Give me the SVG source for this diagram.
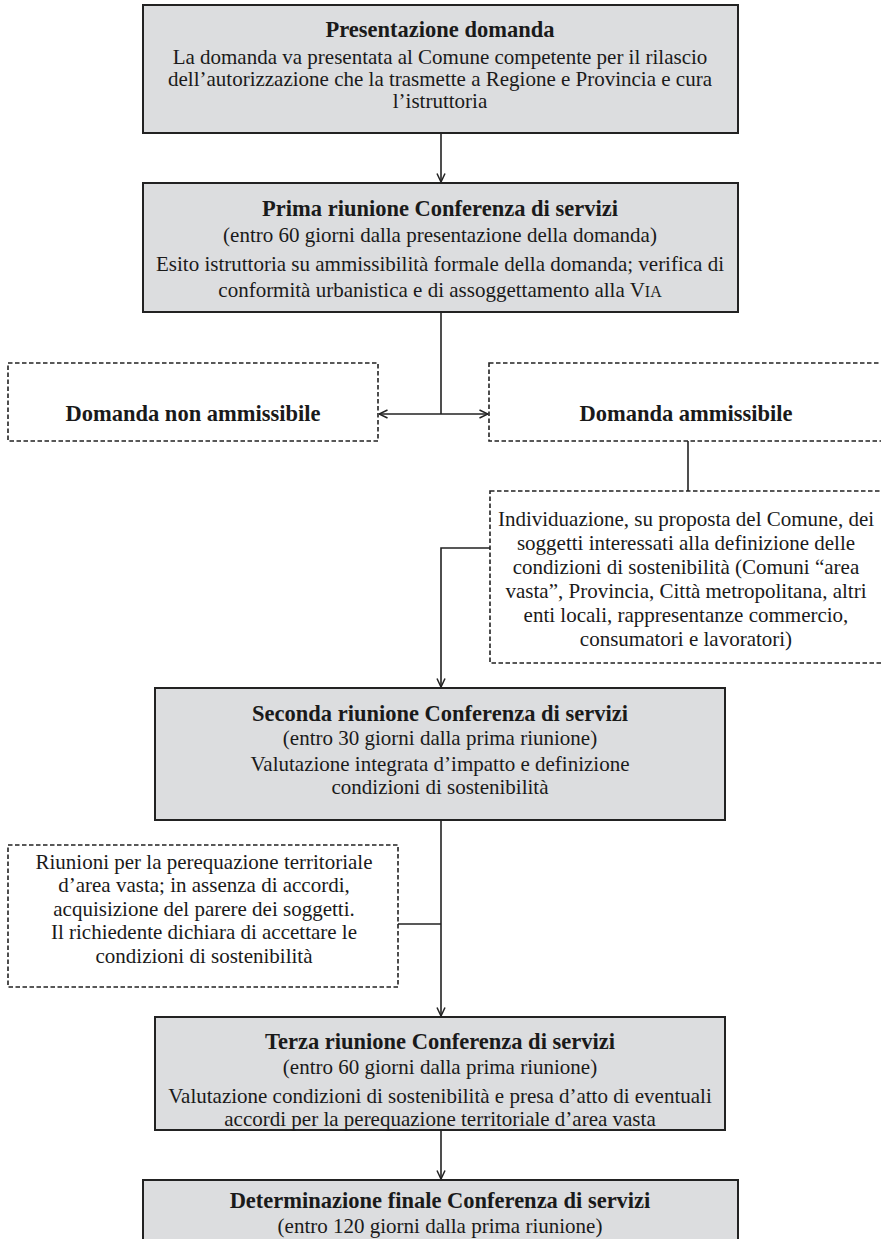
<svg xmlns="http://www.w3.org/2000/svg" width="881" height="1239" viewBox="0 0 881 1239">
<style>
.box{fill:#dcdddf;stroke:#222;stroke-width:2}
.dash{fill:#fff;stroke:#222;stroke-width:1.6;stroke-dasharray:4.5 2.5}
.t{font-family:"Liberation Serif","Times New Roman",serif;font-size:21px;fill:#1a1a1a;text-anchor:middle}
.b{font-weight:bold;font-size:22.5px}
.ln{fill:none;stroke:#222;stroke-width:1.6}
</style>
<defs>
<marker id="arr" viewBox="0 0 10 10" refX="9.5" refY="5" markerWidth="10" markerHeight="10" markerUnits="userSpaceOnUse" orient="auto-start-reverse">
<path d="M1,1 L9.5,5 L1,9" fill="none" stroke="#222" stroke-width="1.5"/>
</marker>
</defs>
<g id="connectors">
<line class="ln" x1="441" y1="133" x2="441" y2="182" marker-end="url(#arr)"/>
<line class="ln" x1="441" y1="312" x2="441" y2="414"/>
<line class="ln" x1="379" y1="414" x2="488" y2="414" marker-start="url(#arr)" marker-end="url(#arr)"/>
<line class="ln" x1="688" y1="441" x2="688" y2="491"/>
<polyline class="ln" points="490,548 441,548 441,687" marker-end="url(#arr)"/>
<line class="ln" x1="441" y1="820" x2="441" y2="1016" marker-end="url(#arr)"/>
<line class="ln" x1="398" y1="924" x2="441" y2="924"/>
<line class="ln" x1="441" y1="1130" x2="441" y2="1179" marker-end="url(#arr)"/>
</g>
<g id="n1">
<rect class="box" x="143" y="5" width="595" height="128"/>
<text class="t b" x="440" y="37">Presentazione domanda</text>
<text class="t" x="440" y="64">La domanda va presentata al Comune competente per il rilascio</text>
<text class="t" x="440" y="86">dell’autorizzazione che la trasmette a Regione e Provincia e cura</text>
<text class="t" x="440" y="108">l’istruttoria</text>
</g>
<g id="n2">
<rect class="box" x="143" y="183" width="595" height="129"/>
<text class="t b" x="440" y="216">Prima riunione Conferenza di servizi</text>
<text class="t" x="440" y="242">(entro 60 giorni dalla presentazione della domanda)</text>
<text class="t" x="440" y="271">Esito istruttoria su ammissibilità formale della domanda; verifica di</text>
<text class="t" x="440" y="297">conformità urbanistica e di assoggettamento alla V<tspan font-size="16">IA</tspan></text>
</g>
<g id="n3">
<rect class="dash" x="8" y="363" width="370" height="78"/>
<text class="t b" x="193" y="421">Domanda non ammissibile</text>
</g>
<g id="n4">
<rect class="dash" x="489" y="363" width="400" height="78"/>
<text class="t b" x="686" y="421">Domanda ammissibile</text>
</g>
<g id="n5">
<rect class="dash" x="490" y="491" width="400" height="172"/>
<text class="t" x="686" y="526">Individuazione, su proposta del Comune, dei</text>
<text class="t" x="686" y="550">soggetti interessati alla definizione delle</text>
<text class="t" x="686" y="574">condizioni di sostenibilità (Comuni “area</text>
<text class="t" x="686" y="598">vasta”, Provincia, Città metropolitana, altri</text>
<text class="t" x="686" y="622">enti locali, rappresentanze commercio,</text>
<text class="t" x="686" y="646">consumatori e lavoratori)</text>
</g>
<g id="n6">
<rect class="box" x="155" y="688" width="570" height="132"/>
<text class="t b" x="440" y="721">Seconda riunione Conferenza di servizi</text>
<text class="t" x="440" y="745">(entro 30 giorni dalla prima riunione)</text>
<text class="t" x="440" y="771">Valutazione integrata d’impatto e definizione</text>
<text class="t" x="440" y="794">condizioni di sostenibilità</text>
</g>
<g id="n7">
<rect class="dash" x="8" y="845" width="390" height="142"/>
<text class="t" x="204" y="869">Riunioni per la perequazione territoriale</text>
<text class="t" x="204" y="892">d’area vasta; in assenza di accordi,</text>
<text class="t" x="204" y="916">acquisizione del parere dei soggetti.</text>
<text class="t" x="204" y="939">Il richiedente dichiara di accettare le</text>
<text class="t" x="204" y="963">condizioni di sostenibilità</text>
</g>
<g id="n8">
<rect class="box" x="155" y="1017" width="570" height="113"/>
<text class="t b" x="440" y="1049">Terza riunione Conferenza di servizi</text>
<text class="t" x="440" y="1074">(entro 60 giorni dalla prima riunione)</text>
<text class="t" x="440" y="1103">Valutazione condizioni di sostenibilità e presa d’atto di eventuali</text>
<text class="t" x="440" y="1126">accordi per la perequazione territoriale d’area vasta</text>
</g>
<g id="n9">
<rect class="box" x="143" y="1180" width="595" height="80"/>
<text class="t b" x="440" y="1208">Determinazione finale Conferenza di servizi</text>
<text class="t" x="440" y="1233">(entro 120 giorni dalla prima riunione)</text>
</g>
</svg>
